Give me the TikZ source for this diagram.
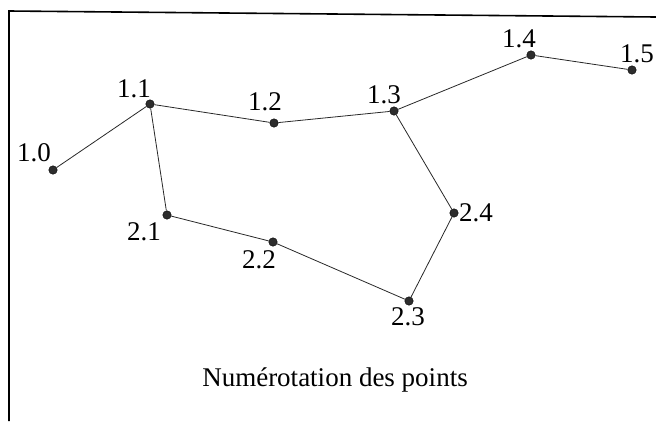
\documentclass[tikz,border=0pt]{standalone}
\usepackage{fontspec}
\setmainfont{Liberation Serif}
\usetikzlibrary{positioning}
\definecolor{ptdark}{RGB}{45,45,45}
\definecolor{linegray}{RGB}{40,40,40}

\tikzset{
  pt/.style={circle, fill=ptdark, draw=black, line width=0.4pt, inner sep=0pt, minimum size=8.5pt},
  lbl/.style={font=\fontsize{27}{30}\selectfont, inner sep=0pt, anchor=base, text=black},
  link/.style={linegray, line width=0.8pt}
}

\begin{document}
\begin{tikzpicture}[x=1pt,y=-1pt]
\useasboundingbox (0,0) rectangle (656,421);
% cadre
\draw[black, line width=1.6pt] (9,421)--(9,11)--(656,17);

% points
\node[pt] (p10) at (53,170) {};
\node[pt] (p11) at (150,104) {};
\node[pt] (p12) at (274,123) {};
\node[pt] (p13) at (394,111) {};
\node[pt] (p14) at (531,55) {};
\node[pt] (p15) at (632,70) {};
\node[pt] (p21) at (167,215) {};
\node[pt] (p22) at (273,242) {};
\node[pt] (p23) at (409,301) {};
\node[pt] (p24) at (454,213) {};

% liaisons
\foreach \a/\b in {p10/p11,p11/p12,p12/p13,p13/p14,p14/p15,p11/p21,p21/p22,p22/p23,p23/p24,p24/p13}
  \draw[link] (\a)--(\b);

% numeros
\node[lbl] (t10) at (34,161) {1.0};
\node[lbl] (t11) at (134,97) {1.1};
\node[lbl] (t12) at (265,110) {1.2};
\node[lbl] (t13) at (384,103) {1.3};
\node[lbl] (t14) at (519,47) {1.4};
\node[lbl] (t15) at (637,62) {1.5};
\node[lbl] (t21) at (144,240) {2.1};
\node[lbl] (t22) at (259,268) {2.2};
\node[lbl] (t23) at (408,325) {2.3};
\node[lbl] (t24) at (476,221) {2.4};

\node[lbl] (titre) at (335,386) {Numérotation des points};
\end{tikzpicture}
\end{document}
